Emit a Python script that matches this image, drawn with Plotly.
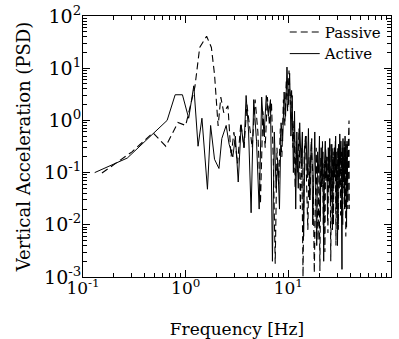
import plotly.graph_objects as go

# ---------------- data ----------------
active_freq = [
    0.13, 0.27, 0.66, 0.79, 0.93, 1.07, 1.20, 1.32, 1.44, 1.63, 1.75, 1.91,
    2.11, 2.25, 2.48, 2.65, 2.88, 3.05, 3.25, 3.47, 3.70, 3.88, 4.10, 4.34,
    4.6, 4.9, 5.2, 5.5, 5.8, 6.1, 6.4, 6.7, 7.0, 7.3, 7.6, 7.9, 8.2, 8.5, 8.8,
    9.1, 9.4, 9.7, 10.0, 10.3, 10.6, 10.9, 11.2, 11.5, 11.8, 12.1,
    12.5, 12.9, 13.3, 13.7, 14.1, 14.5, 14.9, 15.3, 15.7, 16.1, 16.5, 16.9,
    17.3, 17.7, 18.1, 18.5, 18.9, 19.3, 19.7, 20.1, 20.5, 20.9, 21.3, 21.7,
    22.1, 22.5, 22.9, 23.3, 23.7, 24.1, 24.5, 24.9, 25.3, 25.7, 26.1, 26.5,
    26.9, 27.3, 27.7, 28.1, 28.5, 28.9, 29.3, 29.7, 30.1, 30.5, 30.9, 31.3,
    31.7, 32.1, 32.5, 32.9, 33.3, 33.7, 34.1, 34.5, 34.9, 35.3, 35.7, 36.1,
    36.5, 36.9, 37.3, 37.7, 38.1,
]
active_psd = [
    0.10, 0.19, 1.0, 3.1, 3.1, 1.1, 4.6, 0.32, 1.1, 0.048, 0.8, 0.18,
    0.12, 0.45, 0.8, 0.35, 0.2, 0.5, 0.066, 0.8, 0.3, 3.0, 0.6, 0.017,
    2.5, 0.4, 0.02, 2.8, 0.5, 3.0, 1.2, 2.5, 0.002, 0.6, 0.05, 0.15, 0.02, 0.9, 0.4,
    3.5, 1.2, 10.5, 2.0, 8.0, 0.5, 3.0, 0.1, 1.5, 0.02, 0.6,
    0.05, 0.9, 0.15, 0.6, 0.006, 0.35, 0.5, 0.08, 0.7, 0.03, 0.2, 0.45,
    0.01, 0.12, 0.6, 0.05, 0.004, 0.25, 0.1, 0.5, 0.015, 0.3, 0.06, 0.25,
    0.002, 0.15, 0.4, 0.07, 0.2, 0.012, 0.3, 0.1, 0.45, 0.03, 0.15, 0.35,
    0.008, 0.2, 0.06, 0.3, 0.1, 0.5, 0.02, 0.25, 0.004, 0.12, 0.35, 0.05,
    0.55, 0.15, 0.4, 0.03, 0.0014, 0.25, 0.45, 0.08, 0.3, 0.02, 0.5, 0.12,
    0.35, 0.009, 0.4, 0.15, 0.03,
]

passive_freq = [
    0.153, 0.30, 0.48, 0.64, 0.84, 1.0, 1.23, 1.37, 1.60, 1.78, 1.91, 1.98,
    2.07, 2.20, 2.35, 2.58, 2.77, 2.95, 3.20, 3.45, 3.70, 3.95, 4.20,
    4.45, 4.75, 5.05, 5.35, 5.65, 5.95, 6.25, 6.55, 6.85, 7.15, 7.45, 7.75,
    8.05, 8.35, 8.65, 8.95, 9.25, 9.55, 9.85, 10.15, 10.45, 10.75, 11.05,
    11.35, 11.65, 11.95,
    12.3, 12.7, 13.1, 13.5, 13.9, 14.3, 14.7, 15.1, 15.5, 15.9, 16.3, 16.7,
    17.1, 17.5, 17.9, 18.3, 18.7, 19.1, 19.5, 19.9, 20.3, 20.7, 21.1, 21.5,
    21.9, 22.3, 22.7, 23.1, 23.5, 23.9, 24.3, 24.7, 25.1, 25.5, 25.9, 26.3,
    26.7, 27.1, 27.5, 27.9, 28.3, 28.7, 29.1, 29.5, 29.9, 30.3, 30.7, 31.1,
    31.5, 31.9, 32.3, 32.7, 33.1, 33.5, 33.9, 34.3, 34.7, 35.1, 35.5, 35.9,
    36.3, 36.7, 37.1, 37.5, 37.9, 38.3, 39.0, 39.2,
]
passive_psd = [
    0.098, 0.25, 0.58, 0.32, 0.91, 0.8, 4.4, 25, 41, 25, 7.6, 2.5,
    0.78, 2.8, 1.4, 1.9, 0.2, 0.6, 0.15, 0.9, 0.3, 2.0, 0.7,
    0.3, 2.5, 0.6, 0.025, 1.5, 0.3, 2.8, 0.8, 2.2, 0.15, 0.0018, 0.3,
    0.06, 0.7, 0.2, 2.5, 0.8, 6.0, 1.5, 9.0, 2.0, 4.0, 0.3,
    1.0, 0.05, 0.4,
    0.1, 0.7, 0.02, 0.3, 0.001, 0.25, 0.5, 0.05, 0.008, 0.2, 0.03, 0.4,
    0.15, 0.06, 0.0012, 0.1, 0.3, 0.02, 0.005, 0.15, 0.0013, 0.2, 0.05, 0.4,
    0.01, 0.15, 0.003, 0.3, 0.08, 0.2, 0.007, 0.25, 0.05, 0.35, 0.002, 0.12,
    0.03, 0.3, 0.01, 0.25, 0.08, 0.4, 0.004, 0.15, 0.02, 0.3, 0.008, 0.2,
    0.06, 0.35, 0.015, 0.25, 0.04, 0.3, 0.01, 0.2, 0.05, 0.4, 0.02, 0.3,
    0.006, 0.2, 0.05, 0.35, 0.02, 0.3, 1.0, 0.02,
]

x_tickvals = [0.1, 1, 10, 100]
x_ticktext = ["10<sup>-1</sup>", "10<sup>0</sup>", "10<sup>1</sup>", "10<sup>2</sup>"]
y_tickvals = [0.001, 0.01, 0.1, 1, 10, 100]
y_ticktext = ["10<sup>-3</sup>", "10<sup>-2</sup>", "10<sup>-1</sup>",
              "10<sup>0</sup>", "10<sup>1</sup>", "10<sup>2</sup>"]

FONT = "DejaVu Serif"

fig = go.Figure()
fig.add_trace(go.Scatter(
    x=passive_freq, y=passive_psd, mode="lines", name="Passive",
    line=dict(color="black", width=1.1, dash="7px,4px"),
    legend="legend",
))
fig.add_trace(go.Scatter(
    x=active_freq, y=active_psd, mode="lines", name="Active",
    line=dict(color="black", width=1.0),
    legend="legend2",
))

axis_common = dict(
    type="log", showline=True, linecolor="black", linewidth=1,
    mirror="allticks", ticks="inside", ticklen=7, tickcolor="black",
    showgrid=False, zeroline=False, automargin=False,
    minor=dict(ticks="inside", ticklen=4, tickcolor="black", showgrid=False,
               dtick="D1"),
)

fig.update_xaxes(
    range=[-1, 2], tickvals=x_tickvals, ticktext=x_ticktext,
    tickfont=dict(family=FONT, size=17, color="black"),
    ticklabelstandoff=-4,
    title=dict(text="Frequency [Hz]", font=dict(family=FONT, size=17, color="black"),
               standoff=26),
    **axis_common,
)
fig.update_yaxes(
    range=[-3, 2], tickvals=y_tickvals, ticktext=y_ticktext,
    tickfont=dict(family=FONT, size=19, color="black"),
    ticklabelstandoff=-3,
    title=dict(text="Vertical Acceleration (PSD)",
               font=dict(family=FONT, size=18, color="black"), standoff=8),
    **axis_common,
)

legend_common = dict(
    xanchor="left", yanchor="middle",
    bgcolor="rgba(0,0,0,0)", borderwidth=0,
    font=dict(family=FONT, size=15, color="black"),
    itemwidth=30,
)
fig.update_layout(
    width=399, height=339,
    margin=dict(l=83, r=8, t=16, b=62),
    paper_bgcolor="white", plot_bgcolor="white",
    font=dict(family=FONT, color="black"),
    showlegend=True,
    legend=dict(x=0.655, y=0.938, **legend_common),
    legend2=dict(x=0.655, y=0.855, **legend_common),
)

fig.write_html("out.html")
